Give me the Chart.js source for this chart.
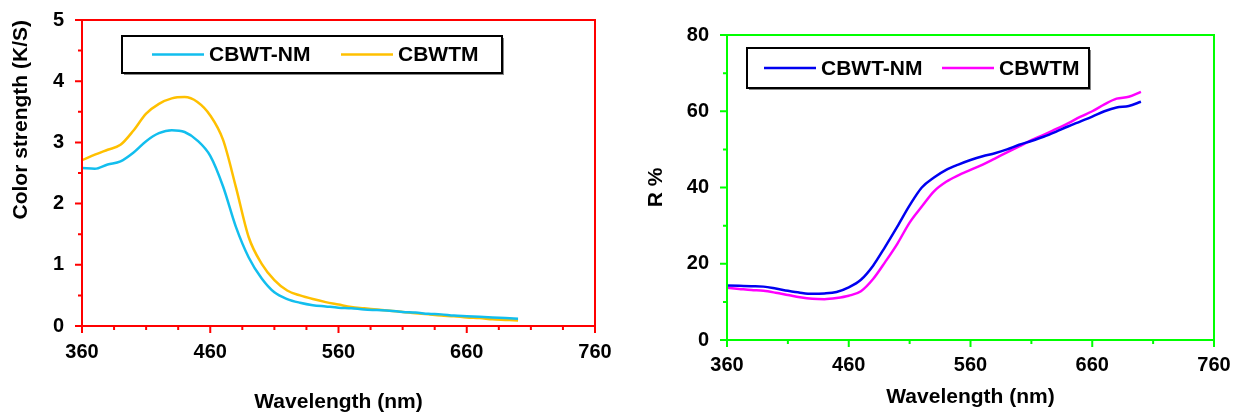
<!DOCTYPE html>
<html>
<head>
<meta charset="utf-8">
<script src="https://cdn.jsdelivr.net/npm/chart.js@4.4.0/dist/chart.umd.min.js"></script>
<style>
  body { margin: 0; background: #fff; width: 1237px; height: 415px; overflow: hidden; position: relative; }
  canvas { position: absolute; top: 0; }
  #ksChart { left: 0; }
  #rChart { left: 620px; }
</style>
</head>
<body>
<canvas id="ksChart" width="620" height="415"></canvas>
<canvas id="rChart" width="617" height="415"></canvas>
<script>
// wavelength (nm) shared by both plots
const wavelengths = [360, 370, 380, 390, 400, 410, 420, 430, 440, 450, 460, 470, 480, 490, 500, 510, 520,
  530, 540, 550, 560, 570, 580, 590, 600, 610, 620, 630, 640, 650, 660, 670, 680, 690, 700];

// colour strength K/S
const ksNM = [2.58, 2.57, 2.64, 2.69, 2.83, 3.02, 3.15, 3.20, 3.17, 3.03, 2.78, 2.28, 1.62, 1.12, 0.78, 0.55, 0.44,
  0.38, 0.34, 0.32, 0.30, 0.29, 0.27, 0.26, 0.25, 0.23, 0.22, 0.20, 0.19, 0.17, 0.16, 0.15, 0.14, 0.13, 0.12];
const ksM = [2.71, 2.80, 2.88, 2.96, 3.19, 3.47, 3.63, 3.72, 3.74, 3.66, 3.44, 3.04, 2.27, 1.45, 1.02, 0.75, 0.58,
  0.50, 0.44, 0.39, 0.35, 0.31, 0.29, 0.27, 0.25, 0.23, 0.21, 0.19, 0.17, 0.16, 0.14, 0.13, 0.11, 0.10, 0.09];

// reflectance R %
const rNM = [14.3, 14.2, 14.1, 14.0, 13.5, 12.9, 12.4, 12.1, 12.2, 12.6, 13.8, 15.8, 19.5, 24.5, 29.8, 35.3, 40.0,
  42.6, 44.6, 46.0, 47.2, 48.2, 49.0, 50.0, 51.2, 52.2, 53.3, 54.6, 56.0, 57.3, 58.6, 60.0, 61.0, 61.4, 62.5];
const rM = [13.7, 13.4, 13.1, 12.9, 12.4, 11.8, 11.2, 10.8, 10.7, 11.0, 11.6, 12.8, 16.0, 20.5, 25.3, 30.8, 35.0,
  39.0, 41.5, 43.2, 44.6, 46.0, 47.6, 49.2, 50.8, 52.4, 53.8, 55.3, 56.8, 58.5, 60.0, 61.8, 63.3, 63.8, 65.1];

const seriesNames = ['CBWT-NM', 'CBWTM'];

Chart.defaults.font.family = '"Liberation Sans", Arial, sans-serif';
Chart.defaults.color = '#000';

const toPoints = vals => vals.map((v, i) => ({ x: wavelengths[i], y: v }));

// frame round the plot area + outside tick marks (major and minor)
const frameTicks = {
  id: 'frameTicks',
  afterDatasetsDraw(chart, args, o) {
    const { ctx, chartArea: a, scales: { x, y } } = chart;
    ctx.save();
    ctx.strokeStyle = o.color;
    ctx.lineWidth = 2;
    ctx.strokeRect(a.left, a.top, a.right - a.left, a.bottom - a.top);
    ctx.beginPath();
    let n = Math.round((x.max - x.min) / o.xMinor);
    for (let i = 0; i <= n; i++) {
      const px = x.getPixelForValue(x.min + i * o.xMinor);
      const len = i % o.xEvery === 0 ? 7 : 4;
      ctx.moveTo(px, a.bottom);
      ctx.lineTo(px, a.bottom + len);
    }
    n = Math.round((y.max - y.min) / o.yMinor);
    for (let i = 0; i <= n; i++) {
      const py = y.getPixelForValue(y.min + i * o.yMinor);
      const len = i % o.yEvery === 0 ? 7 : 4;
      ctx.moveTo(a.left, py);
      ctx.lineTo(a.left - len, py);
    }
    ctx.stroke();
    ctx.restore();
  }
};

// boxed legend sitting inside the plot
const boxLegend = {
  id: 'boxLegend',
  afterDraw(chart, args, o) {
    const ctx = chart.ctx;
    ctx.save();
    ctx.fillStyle = '#888';
    ctx.fillRect(o.x + 2, o.y + 2, o.w, o.h);
    ctx.fillStyle = '#fff';
    ctx.fillRect(o.x, o.y, o.w, o.h);
    ctx.strokeStyle = '#000';
    ctx.lineWidth = 2;
    ctx.strokeRect(o.x, o.y, o.w, o.h);
    ctx.font = 'bold 21px "Liberation Sans", Arial, sans-serif';
    ctx.textBaseline = 'middle';
    const cy = o.y + o.h / 2;
    chart.data.datasets.forEach((ds, i) => {
      const lx = o.x + o.items[i];
      ctx.strokeStyle = ds.borderColor;
      ctx.lineWidth = 2.5;
      ctx.beginPath();
      ctx.moveTo(lx, cy);
      ctx.lineTo(lx + 52, cy);
      ctx.stroke();
      ctx.fillStyle = '#000';
      ctx.fillText(ds.label, lx + 57, cy + 1);
    });
    ctx.restore();
  }
};

function createChart(id, data, colors, cfg) {
  return new Chart(document.getElementById(id), {
    type: 'line',
    data: {
      datasets: data.map((vals, i) => ({
        label: seriesNames[i],
        data: toPoints(vals),
        borderColor: colors[i],
        borderWidth: 2.5,
        pointRadius: 0,
        fill: false,
        cubicInterpolationMode: 'monotone'
      }))
    },
    options: {
      responsive: false,
      animation: false,
      devicePixelRatio: 1,
      layout: { padding: cfg.padding },
      plugins: {
        legend: { display: false },
        tooltip: { enabled: false },
        frameTicks: cfg.frame,
        boxLegend: cfg.legend
      },
      scales: {
        x: {
          type: 'linear',
          min: 360,
          max: 760,
          grid: { display: false, drawTicks: false },
          border: { display: false },
          ticks: { stepSize: 100, padding: cfg.xTickPad, font: { size: 20, weight: 'bold' } },
          title: {
            display: true,
            text: 'Wavelength (nm)',
            font: { size: 21, weight: 'bold' },
            padding: { top: 0, bottom: cfg.xTitlePad }
          },
          afterFit: s => { s.height = cfg.xHeight; s.paddingLeft = 0; s.paddingRight = 0; }
        },
        y: {
          min: 0,
          max: cfg.yMax,
          grid: { display: false, drawTicks: false },
          border: { display: false },
          ticks: { stepSize: cfg.yStep, padding: 18, font: { size: 20, weight: 'bold' } },
          title: {
            display: true,
            text: cfg.yTitle,
            align: cfg.yTitleAlign,
            font: { size: 21, weight: 'bold' },
            padding: { top: cfg.yTitlePad, bottom: 0 }
          },
          afterFit: s => { s.width = cfg.yWidth; s.paddingTop = 0; s.paddingBottom = 0; }
        }
      }
    },
    plugins: [frameTicks, boxLegend]
  });
}

createChart('ksChart', [ksNM, ksM], ['#12BEEE', '#FFC000'], {
  padding: { left: 0, top: 20, right: 25, bottom: 0 },
  xHeight: 89, yWidth: 82,
  xTickPad: 14, xTitlePad: 0, yTitlePad: 9, yTitleAlign: 'end',
  yMax: 5, yStep: 1, yTitle: 'Color strength (K/S)',
  frame: { color: '#FF0000', xMinor: 25, xEvery: 4, yMinor: 0.5, yEvery: 2 },
  legend: { x: 122, y: 36, w: 380, h: 37, items: [30, 219] }
});

createChart('rChart', [rNM, rM], ['#0000F0', '#FF00FF'], {
  padding: { left: 0, top: 35, right: 23, bottom: 0 },
  xHeight: 75, yWidth: 107,
  xTickPad: 13, xTitlePad: 5, yTitlePad: 24, yTitleAlign: 'center',
  yMax: 80, yStep: 20, yTitle: 'R %',
  frame: { color: '#00FF00', xMinor: 50, xEvery: 2, yMinor: 10, yEvery: 2 },
  legend: { x: 127, y: 48, w: 342, h: 40, items: [17, 195] }
});
</script>
</body>
</html>
